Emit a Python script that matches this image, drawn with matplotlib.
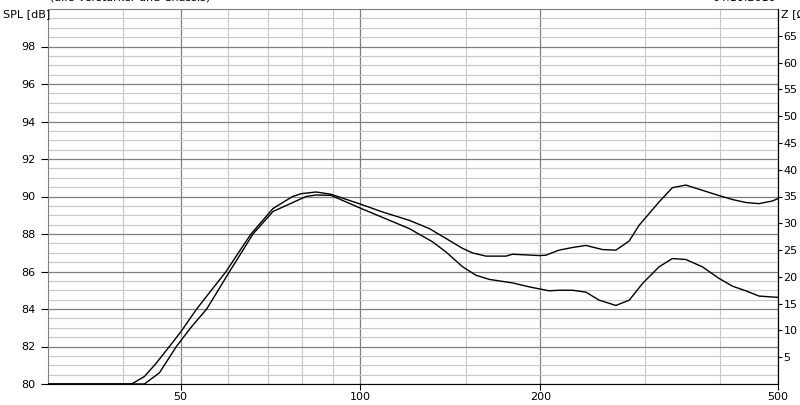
import matplotlib
matplotlib.use("Agg")
import matplotlib.pyplot as plt
from matplotlib.ticker import FixedLocator, NullFormatter

# Frequenzgang, zwei Messungen (SPL in dB)
freq_a = [30, 41.4, 43.5, 45.5, 47.9, 50.1, 53.2, 56.3, 59.6, 62.5, 65.6, 71.4, 77,
          79.6, 84.3, 89.3, 100.3, 109, 120.7, 130.4, 139.1, 148.3, 154.1, 162.3,
          175.2, 179.8, 199.2, 204.4, 215, 226.5, 238.5, 254.2, 267.7, 281.8,
          292.8, 316.2, 332.8, 350.5, 373.6, 398.4, 419.4, 441.6, 464.7, 489.3, 500]
spl_a = [80.0, 80.0, 80.4, 81.1, 82.0, 82.8, 84.0, 85.0, 86.0, 87.0, 88.0, 89.36, 90.0,
         90.15, 90.24, 90.12, 89.58, 89.17, 88.73, 88.29, 87.76, 87.23, 86.99, 86.82,
         86.82, 86.92, 86.85, 86.87, 87.14, 87.28, 87.39, 87.17, 87.14, 87.63,
         88.47, 89.71, 90.47, 90.61, 90.33, 90.05, 89.84, 89.68, 89.62, 89.76, 89.89]

freq_b = [30, 43.5, 46.1, 49.2, 52, 55.3, 57.8, 60.4, 63.2, 66.1, 71.4, 81.1, 84.3,
          89.3, 100.3, 109, 120.7, 132.1, 139.1, 148.3, 156.1, 164.3, 179.8, 191.7,
          207, 215, 226.5, 238.5, 251, 267.7, 281.8, 296.6, 316.2, 332.8, 350.5,
          373.6, 398.4, 419.4, 441.6, 464.7, 500]
spl_b = [80.0, 80.0, 80.6, 82.0, 83.0, 84.0, 85.0, 86.0, 87.0, 88.0, 89.2, 90.0, 90.08,
         90.06, 89.36, 88.88, 88.29, 87.58, 87.04, 86.25, 85.8, 85.58, 85.39, 85.18,
         84.97, 85.0, 85.0, 84.9, 84.47, 84.19, 84.47, 85.36, 86.25, 86.69, 86.64,
         86.25, 85.63, 85.22, 84.97, 84.69, 84.62]

x_ticks = [50, 100, 200, 500]
x_minor = [40, 60, 70, 80, 90, 150, 300, 400]
spl_ticks = list(range(80, 100, 2))
z_ticks = list(range(5, 70, 5))

fig = plt.figure(figsize=(8, 4.05), dpi=100)
ax = fig.add_axes([48 / 800, 21 / 405, 730 / 800, 375 / 405])

dark = "#808080"
light = "#c8c8c8"

ax.set_xscale("log")
ax.set_xlim(30, 500)
ax.set_ylim(80, 100)

ax.xaxis.set_major_locator(FixedLocator(x_ticks))
ax.xaxis.set_minor_locator(FixedLocator(x_minor))
ax.xaxis.set_minor_formatter(NullFormatter())
ax.set_xticklabels([str(t) for t in x_ticks])
ax.yaxis.set_major_locator(FixedLocator(spl_ticks))
ax.yaxis.set_minor_locator(FixedLocator([80 + 0.5 * i for i in range(41)]))
ax.set_yticklabels([str(t) for t in spl_ticks])

ax.grid(which="major", color=dark, lw=0.9, zorder=0)
ax.grid(which="minor", color=light, lw=0.8, zorder=0)
ax.set_axisbelow(True)

ax.tick_params(axis="both", which="minor", length=0)
ax.tick_params(axis="x", which="major", length=4, width=0.8, pad=2, labelsize=8)
ax.tick_params(axis="y", which="major", length=5, width=0.8, pad=4, labelsize=8)

for s in ["top", "left"]:
    ax.spines[s].set_color(dark)
    ax.spines[s].set_linewidth(0.8)
ax.spines["bottom"].set_color("black")
ax.spines["right"].set_color("black")

ax.plot(freq_a, spl_a, color="black", lw=1.0, zorder=3)
ax.plot(freq_b, spl_b, color="black", lw=1.0, zorder=3)

# rechte Achse: Impedanz
az = ax.twinx()
az.set_ylim(0, 70)
az.set_yticks(z_ticks)
az.set_yticklabels([str(t) for t in z_ticks])
az.tick_params(axis="y", length=3, width=0.8, pad=1, labelsize=8)
for s in ["top", "left", "bottom"]:
    az.spines[s].set_visible(False)
az.spines["right"].set_color("black")

fig.text(3 / 800, 1 - 14 / 405, "SPL [dB]", fontsize=8, va="center", ha="left")
fig.text(781 / 800, 1 - 14 / 405, "Z [Ω]", fontsize=8, va="center", ha="left")
fig.text(50 / 800, 1 + 2 / 405, "(alle Verstärker und Chassis)", fontsize=8,
         va="center", ha="left")
fig.text(776 / 800, 1 + 2 / 405, "04.10.2010", fontsize=8, va="center", ha="right")

fig.savefig("out.png", dpi=100)
